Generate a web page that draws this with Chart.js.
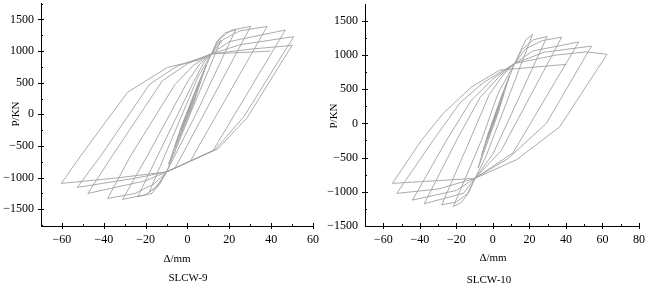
<!DOCTYPE html>
<html>
<head>
<meta charset="utf-8">
<script src="https://cdn.jsdelivr.net/npm/chart.js@4/dist/chart.umd.min.js"></script>
<style>
  body { margin:0; background:#fff; }
  #wrap { position:relative; width:647px; height:284px; font-family:"Liberation Serif","DejaVu Serif",serif; color:#000; }
  canvas { position:absolute; top:0; }
  .t { position:absolute; transform:translate(-50%,-50%); white-space:nowrap; font-size:11px; }
  .r { transform:translate(-50%,-50%) rotate(-90deg); }
</style>
</head>
<body>
<div id="wrap">
  <canvas id="c9" width="323" height="284" style="left:0"></canvas>
  <canvas id="c10" width="324" height="284" style="left:323px"></canvas>
  <div class="t r" style="left:15px;top:114px">P/KN</div>
  <div class="t" style="left:177px;top:258px">Δ/mm</div>
  <div class="t" style="left:188px;top:277px">SLCW-9</div>
  <div class="t r" style="left:333px;top:116px">P/KN</div>
  <div class="t" style="left:493px;top:257px">Δ/mm</div>
  <div class="t" style="left:489px;top:279px">SLCW-10</div>
</div>
<script>
// ---- data ----
const xTicks9  = [-60, -40, -20, 0, 20, 40, 60];
const xTicks10 = [-60, -40, -20, 0, 20, 40, 60, 80];
const yTicks   = [-1500, -1000, -500, 0, 500, 1000, 1500];

// SLCW-9: displacement (mm) and load (kN), in loading order
const slcw9X = [
  0, 3, 1, -3, -1, 6, 2, -6, -2, 9, 3, -9, -3, 5, 11.5, 14, 16,
  3, -10, -13, -16, -18.2,
  -8, 5, 11.5, 14, 18, 23,
  4, -10, -13, -17, -23.8,
  -13, 3, 8, 11.5, 15, 21, 30.2,
  7.8, -5.9, -10, -15, -20, -31,
  -19, 0, 6, 11.5, 17, 25, 38.1,
  14.1, 1.4, -10, -16, -25, -38.1,
  -27, -6, 3, 11.5, 20, 46.8,
  22.6, 12.2, -10, -20, -47.6,
  -35.7, -12, 0, 11.5, 25, 50.8,
  27, 13, -10, -25, -52.7,
  -41.2, -18, -5, 11.5, 30, 50,
  28.5, 14.5, -10, -35, -60.3,
  -50.8, -28.6, -9.5, 5.6, 11.5, 39.7
];
const slcw9P = [
  0, 260, 60, -250, -60, 520, 120, -510, -130, 780, 180, -790, -200, 480, 955, 1100, 1175,
  140, -910, -1070, -1180, -1224,
  -430, 590, 955, 1150, 1290, 1333,
  0, -910, -1090, -1250, -1303,
  -570, 520, 830, 955, 1180, 1330, 1390,
  0, -847, -910, -1150, -1270, -1345,
  -645, 515, 800, 955, 1180, 1320, 1390,
  0, -737, -910, -1100, -1250, -1329,
  -645, 470, 780, 955, 1150, 1333,
  0, -573, -910, -1050, -1250,
  -645, 530, 800, 955, 1100, 1228,
  -35, -565, -910, -1010, -1155,
  -645, 480, 760, 955, 1030, 1090,
  -55, -545, -910, -1010, -1092,
  -645, 350, 743, 860, 955, 1000
];

// SLCW-10
const slcw10X = [
  0, 3, 1, -3, -1, 6, 2, -6, -2, 9, 3, -8, -3, 5, 12, 15, 18, 21.7,
  3.1, -4, -9.8, -13, -17, -21.7,
  -6.2, 3, 12, 16, 22, 29.7,
  7.8, 0, -9.8, -14, -20, -28,
  -12.6, -2, 6, 12, 18, 27, 37.7,
  12.5, 4.5, -9.8, -16, -37.6,
  -19.8, -7, 4, 12, 22, 47,
  20.6, 11, -9.8, -20, -44,
  -25.3, -12, 0, 12, 28, 54,
  29.3, 8.4, -9.8, -30, -52.6,
  -32.6, -18, -5, 12, 35, 51, 62.5,
  36.6, 13, -9.8, -55,
  -39, -27.2, -11.6, 3.8, 40.3
];
const slcw10P = [
  0, 230, 50, -220, -50, 460, 110, -450, -120, 690, 160, -650, -180, 420, 877, 1050, 1220, 1301,
  0, -500, -804, -1000, -1150, -1219,
  -244, 450, 877, 1080, 1220, 1270,
  0, -450, -804, -1030, -1150, -1190,
  -244, 420, 720, 877, 1090, 1210, 1260,
  0, -400, -804, -1020, -1175,
  -244, 380, 700, 877, 1060, 1190,
  0, -430, -804, -980, -1121,
  -244, 330, 650, 877, 1040, 1130,
  0, -512, -804, -960, -1023,
  -244, 300, 600, 877, 1000, 1045, 1010,
  -50, -530, -804, -877,
  -244, 146, 535, 779, 863
];

// ---- drawing ----
const FONT = { family: '"Liberation Serif", "DejaVu Serif", serif', size: 12 };
const fmt = v => (v < 0 ? '\u2212' + Math.abs(v) : String(v));

const tickMarks = {
  id: 'tickMarks',
  afterDraw(chart, args, opts) {
    const { ctx, chartArea: a, scales: { x, y } } = chart;
    ctx.save();
    ctx.strokeStyle = '#000';
    ctx.lineWidth = 1;
    ctx.beginPath();
    const xs = opts.xMajor, ys = opts.yMajor;
    for (let i = 0; i < xs.length; i++) {
      const px = Math.round(x.getPixelForValue(xs[i])) + 0.5;
      ctx.moveTo(px, a.bottom - 3); ctx.lineTo(px, a.bottom + 3);
      const mid = xs[i] + (xs[1] - xs[0]) / 2;
      if (mid < x.max) { const pm = Math.round(x.getPixelForValue(mid)) + 0.5; ctx.moveTo(pm, a.bottom - 2); ctx.lineTo(pm, a.bottom); }
      if (i === 0) { const m0 = xs[0] - (xs[1] - xs[0]) / 2; if (m0 > x.min) { const pm = Math.round(x.getPixelForValue(m0)) + 0.5; ctx.moveTo(pm, a.bottom - 2); ctx.lineTo(pm, a.bottom); } }
    }
    const ystep = ys[1] - ys[0];
    for (let v = ys[0] - ystep; v <= ys[ys.length - 1] + ystep; v += ystep / 2) {
      if (v <= y.min || v >= y.max) continue;
      const py = Math.round(y.getPixelForValue(v)) + 0.5;
      const major = ys.includes(v);
      ctx.moveTo(a.left - (major ? 3 : 0), py); ctx.lineTo(a.left + (major ? 3 : 2), py);
    }
    ctx.stroke();
    ctx.restore();
  }
};

function makeChart(id, xs, ps, xMin, xMax, yMin, yMax, xTicks, pad, yWidth) {
  const pts = xs.map((v, i) => ({ x: v, y: ps[i] }));
  return new Chart(document.getElementById(id), {
    type: 'scatter',
    data: { datasets: [{ data: pts, showLine: true, borderColor: '#a2a2a2', borderWidth: 0.9, pointRadius: 0, tension: 0, fill: false }] },
    options: {
      responsive: false, animation: false, devicePixelRatio: 1,
      layout: { padding: pad },
      plugins: { legend: { display: false }, tooltip: { enabled: false }, tickMarks: { xMajor: xTicks, yMajor: yTicks } },
      scales: {
        x: {
          type: 'linear', min: xMin, max: xMax,
          grid: { display: false, drawTicks: false },
          border: { display: true, color: '#000', width: 1 },
          ticks: { font: FONT, color: '#000', padding: 7, maxRotation: 0, callback: fmt },
          afterBuildTicks: s => { s.ticks = xTicks.map(v => ({ value: v })); },
          afterFit: s => { s.height = 58; s.paddingLeft = 0; s.paddingRight = 0; }
        },
        y: {
          type: 'linear', min: yMin, max: yMax,
          grid: { display: false, drawTicks: false },
          border: { display: true, color: '#000', width: 1 },
          ticks: { font: FONT, color: '#000', padding: 7, callback: fmt },
          afterBuildTicks: s => { s.ticks = yTicks.map(v => ({ value: v })); },
          afterFit: s => { s.width = yWidth; s.paddingTop = 0; s.paddingBottom = 0; }
        }
      }
    },
    plugins: [tickMarks]
  });
}

makeChart('c9', slcw9X, slcw9P, -70, 60, -1765, 1760, xTicks9, { top: 3, right: 10, left: 0, bottom: 0 }, 41);
makeChart('c10', slcw10X, slcw10P, -70, 80, -1500, 1745, xTicks10, { top: 4, right: 8, left: 0, bottom: 0 }, 42);
</script>
</body>
</html>
